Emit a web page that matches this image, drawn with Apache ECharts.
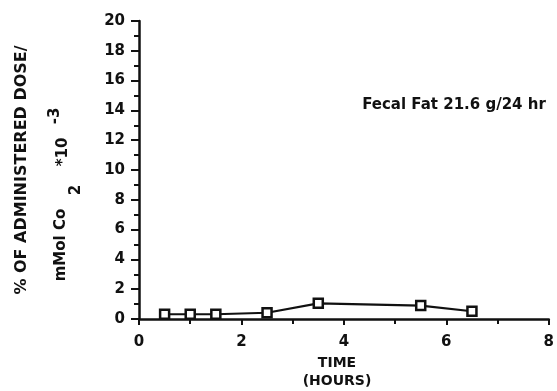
<!DOCTYPE html>
<html>
<head>
<meta charset="utf-8">
<script src="https://cdn.jsdelivr.net/npm/echarts@6/dist/echarts.min.js"></script>
<style>
  html, body { margin: 0; padding: 0; background: #fff; }
  #chart { width: 557px; height: 391px; }
</style>
</head>
<body>
<div id="chart"></div>
<script>
// data
var timeHours = [0.5, 1.0, 1.5, 2.5, 3.5, 5.5, 6.5];
var doseValues = [0.32, 0.32, 0.32, 0.42, 1.05, 0.9, 0.52];
var noteText = 'Fecal Fat 21.6 g/24 hr';

var chart = echarts.init(document.getElementById('chart'));
var font = '"DejaVu Sans"';
var ink = '#111';

function txt(s, x, y, size, rot) {
    return {
        type: 'text', x: x, y: y, rotation: rot ? Math.PI / 2 : 0,
        style: { text: s, fill: ink, font: 'bold ' + size + 'px ' + font, align: 'center', verticalAlign: 'middle' }
    };
}

var option = {
    backgroundColor: '#fff',
    animation: false,
    grid: { left: 139, right: 8, top: 21, bottom: 72 },
    xAxis: {
        type: 'value',
        min: 0, max: 8, interval: 2,
        axisLine: { lineStyle: { color: ink, width: 2.5 } },
        axisTick: { show: true, length: 6, lineStyle: { color: ink, width: 2 } },
        minorTick: { show: true, splitNumber: 2, length: 5, lineStyle: { color: ink, width: 2 } },
        splitLine: { show: false },
        axisLabel: { color: ink, fontFamily: font, fontWeight: 'bold', fontSize: 15, margin: 16 }
    },
    yAxis: {
        type: 'value',
        min: 0, max: 20, interval: 2,
        axisLine: { show: true, lineStyle: { color: ink, width: 2.5 } },
        axisTick: { show: true, length: 8, lineStyle: { color: ink, width: 2 } },
        minorTick: { show: true, splitNumber: 2, length: 5, lineStyle: { color: ink, width: 2 } },
        splitLine: { show: false },
        axisLabel: { color: ink, fontFamily: font, fontWeight: 'bold', fontSize: 15, margin: 14 }
    },
    series: [{
        type: 'line',
        data: timeHours.map(function (t, i) { return [t, doseValues[i]]; }),
        symbol: 'rect',
        symbolSize: 9,
        showAllSymbol: true,
        lineStyle: { color: ink, width: 2.2 },
        itemStyle: { color: '#fff', borderColor: ink, borderWidth: 2.5 }
    }],
    graphic: [
        txt(noteText, 454, 105, 15),
        txt('TIME', 337, 363, 14),
        txt('(HOURS)', 337, 381, 14),
        txt('% OF ADMINISTERED DOSE/', 22, 170, 16, true),
        txt('mMol Co', 61, 245, 15, true),
        txt('2', 76, 190, 15, true),
        txt('*10', 63, 152, 15, true),
        txt('-3', 55, 116, 15, true)
    ]
};
chart.setOption(option);
</script>
</body>
</html>
